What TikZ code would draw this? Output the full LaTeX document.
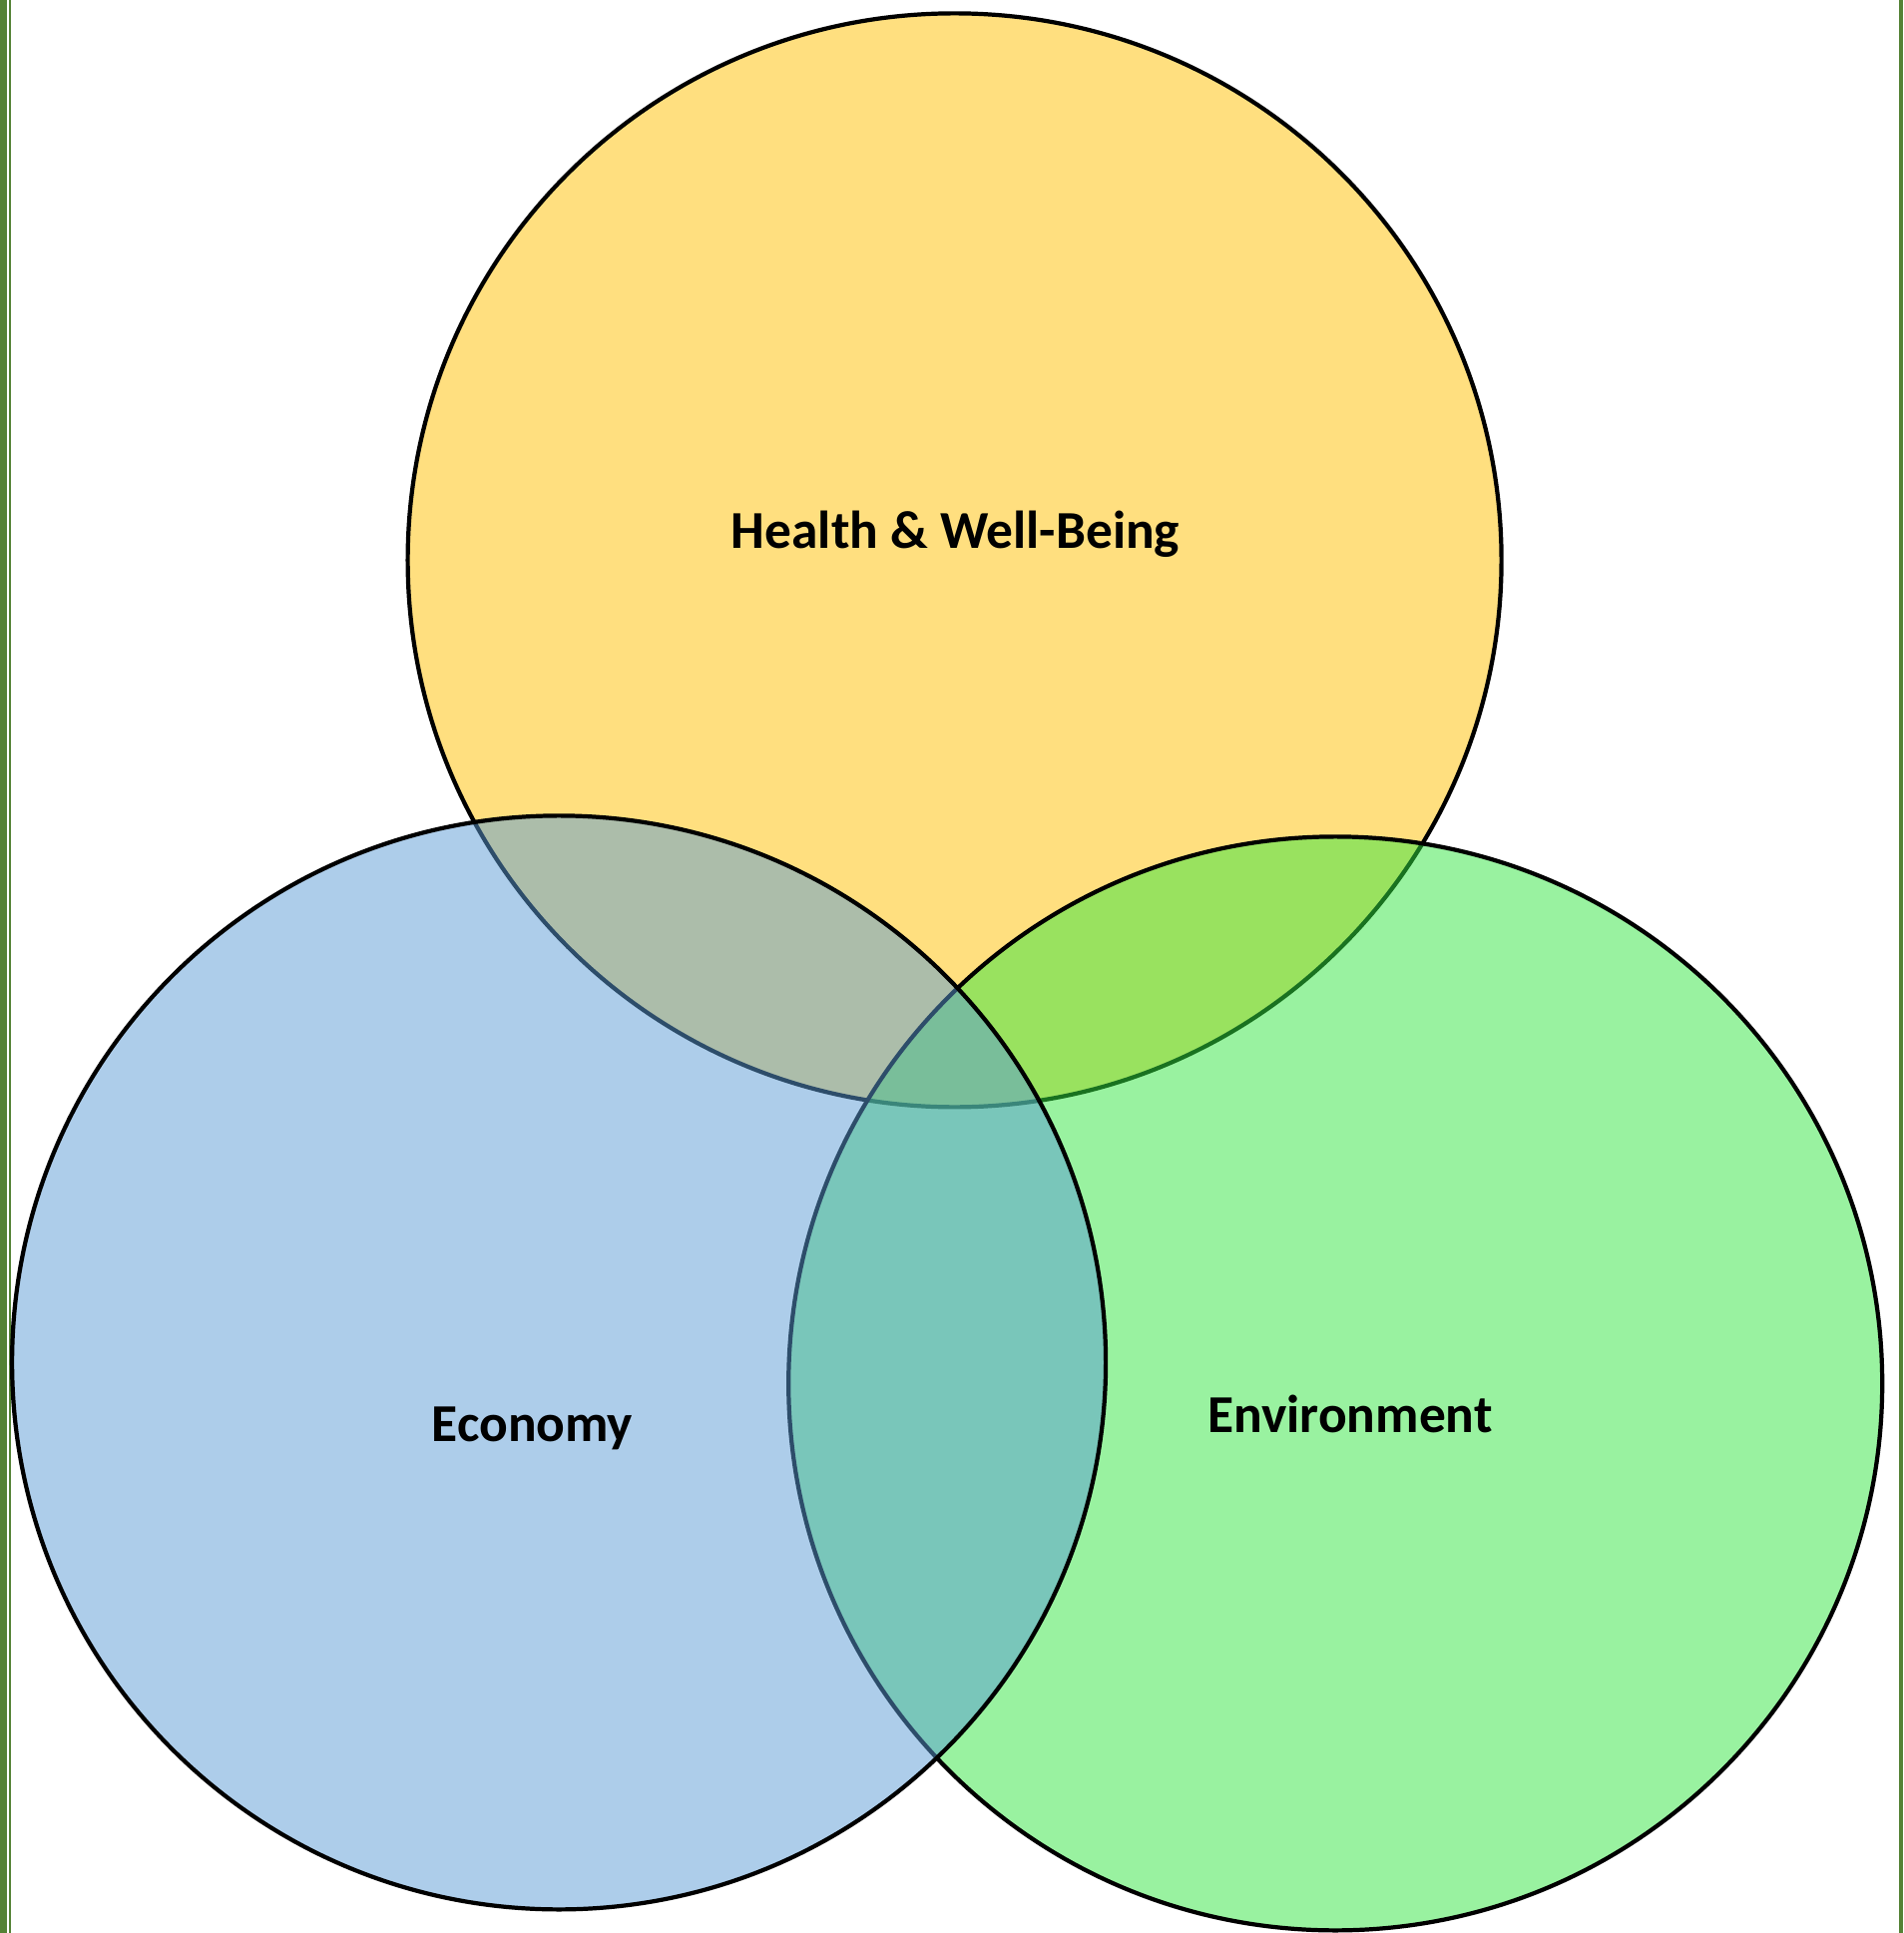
\documentclass[tikz,border=0pt]{standalone}
\usepackage{fontspec}
\setmainfont{Carlito}
\usepackage{xcolor}
\usetikzlibrary{positioning}

\definecolor{gold}{HTML}{FFC000}
\definecolor{steel}{HTML}{5B9BD5}
\definecolor{leaf}{HTML}{33E541}
\definecolor{frame}{HTML}{548235}

\tikzset{
  ring/.style={fill=#1, fill opacity=0.5, draw=black, line width=1.2pt},
  tag/.style={anchor=base, font=\bfseries\fontsize{15.2}{18}\selectfont}
}

\begin{document}
\begin{tikzpicture}

\useasboundingbox (0,0) rectangle (19.07,19.37);

% bordas verdes
\fill[frame] (0,0) rectangle (0.07,19.37);
\fill[frame] (0.09,0) rectangle (0.11,19.37);
\fill[frame] (19.03,0) rectangle (19.07,19.37);

% centros dos circulos
\coordinate (H) at (9.566,13.756);
\coordinate (E) at (5.601,5.716);
\coordinate (V) at (13.382,5.506);

% circulos sobrepostos
\path[ring=gold]  (H) circle (5.48);
\path[ring=leaf]  (V) circle (5.48);
\path[ring=steel] (E) circle (5.48);

% rotulos
\node[tag] (health) at (9.575,13.87) {Health \& Well-Being};
\node[tag] (economy) at (5.335,4.92) {Economy};
\node[tag] (environment) at (13.53,5.01) {Environment};

\end{tikzpicture}
\end{document}
